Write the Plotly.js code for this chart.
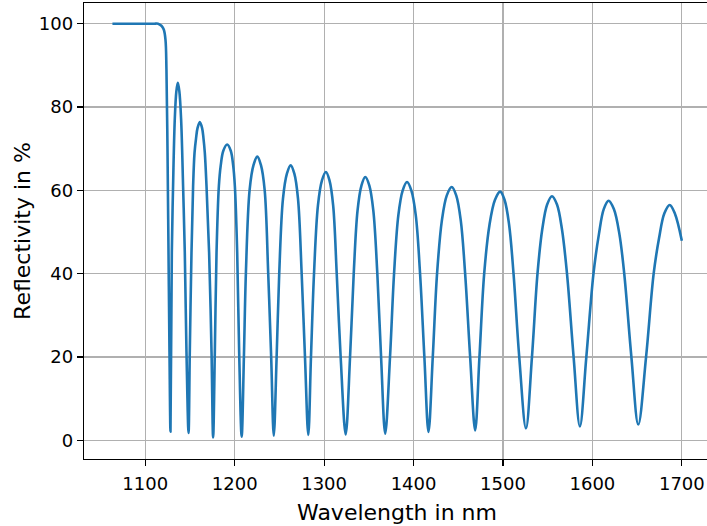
<!DOCTYPE html>
<html>
<head>
<meta charset="utf-8">
<script src="https://cdn.plot.ly/plotly-3.0.1.min.js"></script>
<style>
html,body{margin:0;padding:0;overflow:hidden;width:707px;height:526px;background:#ffffff;}
#chart{width:710px;height:526px;}
</style>
</head>
<body>
<div id="chart"></div>
<script>
// Wavelength samples (nm), read/
const wavelengthNm = [
  1063.3, 1080.0, 1100.0, 1110.0, 1114.3, 1118.1, 1120.7, 1122.6, 1123.7, 1124.9, 1126.0, 1127.1, 1128.2,
  1129.7, 1131.1, 1133.0, 1134.8, 1136.4, 1138.1, 1140.1, 1142.3, 1144.2, 1146.1, 1148.4,
  1149.8, 1151.7, 1153.5, 1155.1, 1156.8, 1158.5, 1161.0, 1163.5, 1165.1, 1166.6, 1168.5, 1171.4, 1174.1, 1175.9,
  1177.8, 1179.7, 1182.3, 1184.4, 1187.3, 1191.6, 1195.6, 1198.3, 1200.2, 1202.8, 1205.0, 1207.8,
  1210.3, 1212.5, 1216.7, 1221.1, 1225.3, 1229.3, 1233.5, 1237.5, 1240.8, 1243.7,
  1246.9, 1249.8, 1254.0, 1258.4, 1262.6, 1266.7, 1270.8, 1274.9, 1278.6, 1282.3,
  1285.3, 1288.7, 1293.1, 1297.6, 1302.0, 1306.0, 1310.1, 1314.1, 1318.5, 1324.1,
  1329.0, 1333.1, 1337.4, 1341.8, 1346.0, 1350.5, 1355.0, 1359.5, 1363.7, 1368.3,
  1373.7, 1378.2, 1383.0, 1387.9, 1392.7, 1397.5, 1402.5, 1407.3, 1412.1, 1416.7,
  1421.5, 1426.3, 1431.7, 1437.2, 1442.7, 1447.7, 1452.8, 1457.7, 1463.3, 1468.9,
  1473.7, 1479.0, 1484.9, 1491.0, 1496.9, 1501.8, 1506.9, 1511.8, 1518.2, 1525.7,
  1532.4, 1538.6, 1543.9, 1549.4, 1554.8, 1560.4, 1566.0, 1571.6, 1579.0, 1586.0,
  1593.2, 1601.2, 1607.3, 1612.7, 1618.1, 1624.0, 1630.2, 1635.6, 1643.6, 1651.3,
  1660.0, 1668.5, 1674.5, 1680.5, 1686.5, 1692.1, 1700.0
];
// Reflectivity (%) at those wavelengths
const reflectivityPct = [
  100, 100, 100, 100, 100, 99.5, 98.6, 96.2, 89.0, 69.1, 45.2, 21.2, 2.1,
  45.0, 61.0, 77.0, 83.8, 85.8, 83.8, 77.0, 61.0, 45.1, 21.2, 1.8,
  21.2, 45.1, 61.0, 69.0, 72.5, 75.0, 76.4, 75.0, 72.5, 69.0, 61.0, 45.1, 21.2, 0.7,
  21.2, 45.1, 61.0, 66.0, 69.5, 71.0, 69.5, 66.0, 61.0, 45.1, 21.2, 0.9,
  20, 40, 60.1, 66.1, 68.1, 66.1, 60.1, 40, 20, 1.1,
  20, 40, 58.0, 64.0, 66.0, 64.0, 58.0, 40, 20, 1.3,
  20, 40, 56.4, 62.4, 64.4, 62.4, 56.4, 40, 20, 1.4,
  20, 40, 55.2, 61.2, 63.2, 61.2, 55.2, 40, 20, 1.6,
  20, 40, 54.0, 60.0, 62.0, 60.0, 54.0, 40, 20, 2.0,
  20, 40, 52.8, 58.8, 60.8, 58.8, 52.8, 40, 20, 2.4,
  20, 40, 51.7, 57.7, 59.7, 57.7, 51.7, 40, 20, 2.9,
  20, 40, 50.6, 56.6, 58.6, 56.6, 50.6, 40, 20, 3.35,
  20, 40, 49.5, 55.5, 57.5, 55.5, 49.5, 40, 20, 3.8,
  20, 40, 48.5, 54.5, 56.5, 54.5, 47.9
];
const xTickVals = [1100, 1200, 1300, 1400, 1500, 1600, 1700];
const yTickVals = [0, 20, 40, 60, 80, 100];
const xLabel = 'Wavelength in nm';
const yLabel = 'Reflectivity in %';

const trace = {
  x: wavelengthNm,
  y: reflectivityPct,
  type: 'scatter',
  mode: 'lines',
  line: {color: '#1f77b4', width: 2.6, shape: 'spline', smoothing: 1, simplify: false},
  hoverinfo: 'skip'
};

const axisCommon = {
  showline: true, mirror: true, linecolor: '#000000', linewidth: 1.2,
  showgrid: true, gridcolor: '#b0b0b0', gridwidth: 1.1,
  zeroline: false, ticks: 'outside', ticklen: 6, tickwidth: 1.2, tickcolor: '#000000',
  tickfont: {family: 'DejaVu Sans', size: 18, color: '#000000'}
};

const layout = {
  width: 710, height: 526,
  margin: {l: 84, r: 0, t: 3, b: 67, autoexpand: false},
  paper_bgcolor: '#ffffff', plot_bgcolor: '#ffffff',
  showlegend: false,
  xaxis: Object.assign({}, axisCommon, {
    range: [1031.5, 1731.5], tickvals: xTickVals, ticktext: xTickVals.map(String),
    automargin: false, ticklabelstandoff: 2,
    title: {text: xLabel, font: {family: 'DejaVu Sans', size: 22, color: '#000000'}, standoff: 11}
  }),
  yaxis: Object.assign({}, axisCommon, {
    range: [-4.47, 104.97], tickvals: yTickVals, ticktext: yTickVals.map(String),
    automargin: false,
    title: {text: yLabel, font: {family: 'DejaVu Sans', size: 22, color: '#000000'}, standoff: 2}
  })
};

Plotly.newPlot('chart', [trace], layout, {staticPlot: true, displayModeBar: false});
</script>
</body>
</html>
